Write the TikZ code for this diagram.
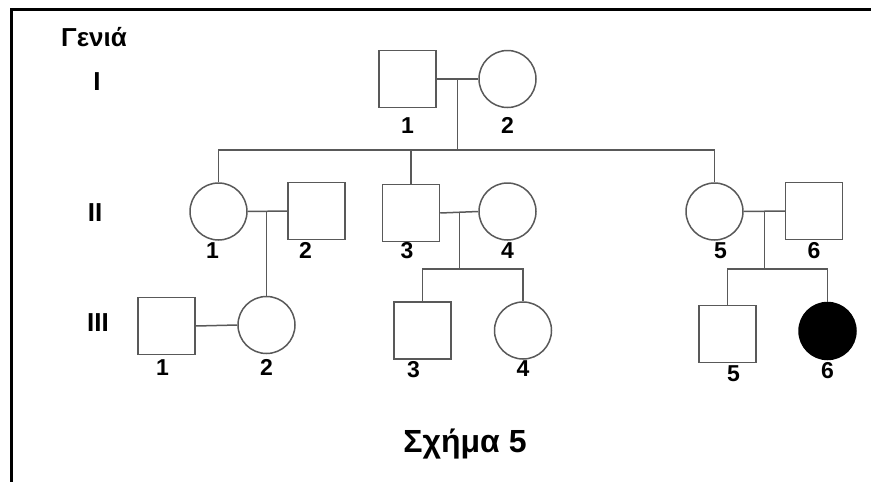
\documentclass[tikz,border=0pt]{standalone}
\usepackage{fontspec}
\setmainfont{Liberation Sans}
\usetikzlibrary{positioning, calc}

\begin{document}
\begin{tikzpicture}[
  x=1pt, y=-1pt,
  line/.style={draw=black!65, line width=1.5pt},
  male/.style={line, rectangle, minimum size=57pt, inner sep=0pt,
    label distance=0pt},
  female/.style={line, circle, minimum size=57pt, inner sep=0pt,
    label distance=0pt},
  affected/.style={fill=black, draw=black},
  num/.style={font=\fontsize{23}{23}\selectfont\bfseries, inner sep=2pt},
  gen/.style={font=\fontsize{26}{26}\selectfont\bfseries},
  every label/.style={num}
]
  \useasboundingbox (0,0) rectangle (871,482);

  % frame
  \draw[line width=3pt] (871,9) -- (11,9) -- (11,482);

  % generation labels
  \node[gen] (genhead) at (94,37) {Γενιά};
  \node[gen] (genI) at (97,82) {I};
  \node[gen] (genII) at (95,213) {II};
  \node[gen] (genIII) at (98,323) {III};

  % generation I
  \node[male, label={[label distance=7pt]below:1}] (I1) at (407.5,79) {};
  \node[female, label={[label distance=7pt]below:2}] (I2) at (507.5,79) {};

  % generation II
  \node[female, label={[xshift=-6pt]below:1}] (II1) at (218.5,211.5) {};
  \node[male, label={[xshift=-11pt]below:2}] (II2) at (316.5,211) {};
  \node[male, label={[xshift=-4pt, label distance=-2pt]below:3}] (II3) at (411,213) {};
  \node[female, label=below:4] (II4) at (507.5,211.5) {};
  \node[female, label={[xshift=6pt]below:5}] (II5) at (714.5,211.5) {};
  \node[male, label=below:6] (II6) at (814,211) {};

  % generation III
  \node[male, label={[xshift=-4pt, label distance=2pt]below:1}] (III1) at (166.5,326) {};
  \node[female, label={[label distance=3pt]below:2}] (III2) at (266.5,325) {};
  \node[male, label={[xshift=-9pt, label distance=-1pt]below:3}] (III3) at (422.5,330.5) {};
  \node[female, label={[label distance=-1pt]below:4}] (III4) at (523,330.5) {};
  \node[male, label={[xshift=6pt]below:5}] (III5) at (727.5,334) {};
  \node[female, affected, label=below:6] (III6) at (827.5,331) {};

  % marriages and offspring of I
  \draw[line] (I1.east) -- (I2.west);
  \coordinate (mI) at ($(I1.east)!0.5!(I2.west)$);
  \coordinate (sibI) at (mI |- 0,150);
  \draw[line] (mI) -- (sibI);
  \draw[line] (II1.north) |- (sibI) -| (II5.north);
  \draw[line] (II3.north) -- (II3.north |- sibI);

  % II1 x II2
  \draw[line] (II1.east) -- (II2.west);
  \draw[line] (III2.north |- II1.east) -- (III2.north);
  \draw[line] (III1.east) -- (III2.west);

  % II3 x II4
  \draw[line] (II3.east) -- (II4.west);
  \coordinate (mII34) at ($(II3.east)!0.5!(II4.west)$);
  \coordinate (sibII34) at (mII34 |- 0,269);
  \draw[line] (mII34) -- (sibII34);
  \draw[line] (III3.north) |- (sibII34) -| (III4.north);

  % II5 x II6
  \draw[line] (II5.east) -- (II6.west);
  \coordinate (mII56) at ($(II5.east)!0.5!(II6.west)$);
  \coordinate (sibII56) at (mII56 |- 0,269);
  \draw[line] (mII56) -- (sibII56);
  \draw[line] (III5.north) |- (sibII56) -| (III6.north);

  % caption
  \node[font=\fontsize{32}{32}\selectfont\bfseries] (caption) at (465,444) {Σχήμα 5};
\end{tikzpicture}
\end{document}
